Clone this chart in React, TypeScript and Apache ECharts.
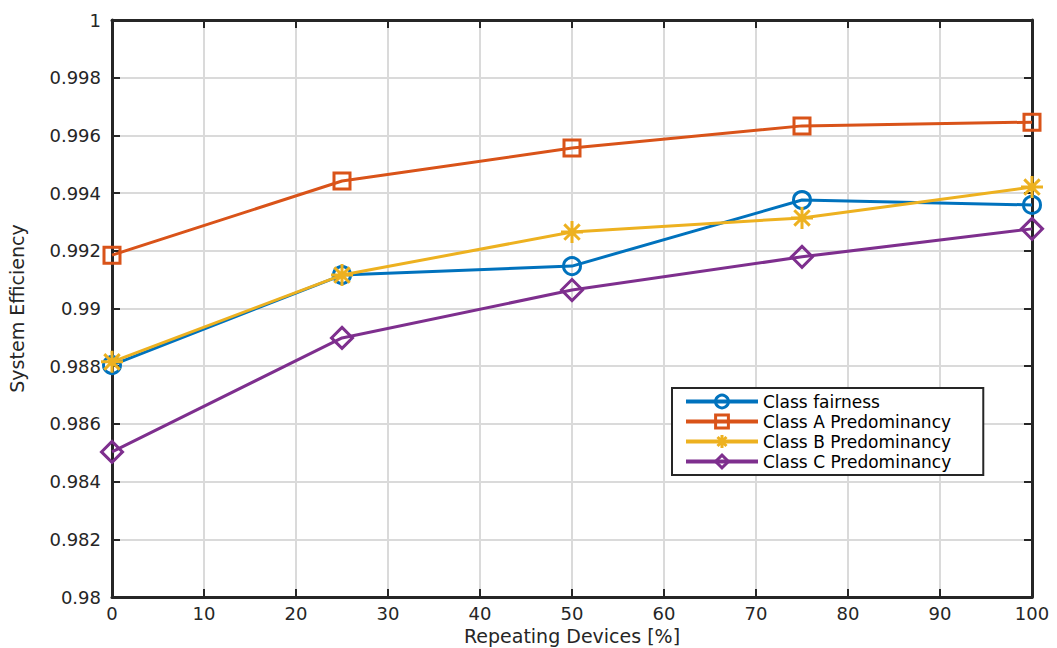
import React, { useEffect, useRef } from "react";
import * as echarts from "echarts";

const xValues = [0, 25, 50, 75, 100];
const classFairness = [0.98804, 0.99116, 0.99147, 0.99376, 0.99359];
const classA = [0.99185, 0.99442, 0.99556, 0.99633, 0.99646];
const classB = [0.98815, 0.99116, 0.99265, 0.99314, 0.99421];
const classC = [0.98503, 0.98898, 0.99064, 0.99179, 0.99276];

const seriesNames = [
  "Class fairness",
  "Class A Predominancy",
  "Class B Predominancy",
  "Class C Predominancy",
];
const seriesColors = ["#0072BD", "#D95319", "#EDB120", "#7E2F8E"];

const asterisk =
  "path://M10,0 L10,20 M0,10 L20,10 M3,3 L17,17 M3,17 L17,3";

const FONT = "'DejaVu Sans', Verdana, sans-serif";
const AXIS_COLOR = "#262626";

export default function App() {
  const ref = useRef<HTMLDivElement>(null);

  useEffect(() => {
    if (!ref.current) return;
    const chart = echarts.init(ref.current, undefined, { renderer: "svg" });

    const datasets = [classFairness, classA, classB, classC];
    const symbols = ["circle", "rect", asterisk, "diamond"];
    const sizes = [17, 16, 22, 21];

    const series = datasets.map((vals, i) => ({
      name: seriesNames[i],
      type: "line",
      data: xValues.map((x, k) => [x, vals[k]]),
      symbol: symbols[i],
      symbolSize: sizes[i],
      showAllSymbol: true,
      lineStyle: { color: seriesColors[i], width: 3 },
      itemStyle: {
        color: i === 2 ? seriesColors[i] : "transparent",
        borderColor: seriesColors[i],
        borderWidth: 3,
      },
      emphasis: { disabled: true },
      z: 3 + i,
    }));

    const tickFmt = (v: number) => String(parseFloat(v.toFixed(4)));

    const axisBase = {
      axisLine: { show: true, onZero: false, lineStyle: { color: AXIS_COLOR, width: 3 } },
      axisTick: { show: true, inside: true, length: 8, lineStyle: { color: AXIS_COLOR, width: 2 } },
    };

    chart.setOption({
      animation: false,
      backgroundColor: "#ffffff",
      grid: {
        left: 112,
        right: 25,
        top: 20,
        bottom: 51,
        containLabel: false,
        outerBoundsMode: "none",
      },
      legend: {
        orient: "vertical",
        left: 672,
        top: 388,
        padding: [5, 32, 5, 12],
        itemGap: 3,
        itemWidth: 72,
        itemHeight: 16,
        borderColor: AXIS_COLOR,
        borderWidth: 2,
        backgroundColor: "#ffffff",
        lineStyle: { width: 4 },
        itemStyle: { borderWidth: 3 },
        textStyle: { fontFamily: FONT, fontSize: 17, lineHeight: 17, color: "#000000" },
        data: seriesNames,
      },
      xAxis: [
        {
          type: "value",
          min: 0,
          max: 100,
          interval: 10,
          name: "Repeating Devices [%]",
          nameLocation: "middle",
          nameGap: 29,
          nameTextStyle: { fontFamily: FONT, fontSize: 19, color: AXIS_COLOR },
          ...axisBase,
          axisLabel: { fontFamily: FONT, fontSize: 18, color: AXIS_COLOR, margin: 7 },
          splitLine: { show: true, lineStyle: { color: "#dadada", width: 2 } },
        },
        {
          type: "value",
          position: "top",
          min: 0,
          max: 100,
          interval: 10,
          ...axisBase,
          axisLabel: { show: false },
          splitLine: { show: false },
        },
      ],
      yAxis: [
        {
          type: "value",
          min: 0.98,
          max: 1,
          interval: 0.002,
          name: "System Efficiency",
          nameLocation: "middle",
          nameGap: 86,
          nameRotate: 90,
          nameTextStyle: { fontFamily: FONT, fontSize: 19, color: AXIS_COLOR },
          ...axisBase,
          axisLabel: { fontFamily: FONT, fontSize: 18, color: AXIS_COLOR, margin: 11, formatter: tickFmt },
          splitLine: { show: true, lineStyle: { color: "#dadada", width: 2 } },
        },
        {
          type: "value",
          position: "right",
          min: 0.98,
          max: 1,
          interval: 0.002,
          ...axisBase,
          axisLabel: { show: false },
          splitLine: { show: false },
        },
      ],
      series,
    });

    return () => chart.dispose();
  }, []);

  return <div ref={ref} style={{ width: 1057, height: 648, position: "absolute", left: 0, top: 0 }} />;
}
